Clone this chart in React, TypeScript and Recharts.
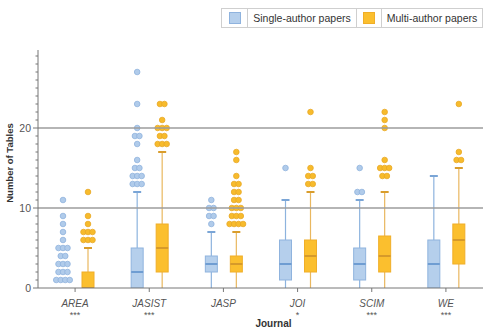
import React from 'react';
import { ComposedChart, Bar, XAxis, YAxis, ReferenceLine } from 'recharts';

const journals = ['AREA', 'JASIST', 'JASP', 'JOI', 'SCIM', 'WE'];
const significance = ['***', '***', '', '*', '***', '***'];

// [lower whisker, Q1, median, Q3, upper whisker]
const singleStats = [
  [0, 0, 0, 0, 0],
  [0, 0, 2, 5, 12],
  [0, 2, 3, 4, 7],
  [0, 1, 3, 6, 11],
  [0, 1, 3, 5, 11],
  [0, 0, 3, 6, 14],
];
const multiStats = [
  [0, 0, 0, 2, 5],
  [0, 2, 5, 8, 17],
  [0, 2, 3, 4, 7],
  [0, 2, 4, 6, 12],
  [0, 2, 4, 6.5, 12],
  [0, 3, 6, 8, 15],
];
const singleOutliers = [
  [1, 1, 1, 1, 2, 2, 2, 3, 3, 3, 4, 4, 5, 5, 5, 6, 7, 8, 9, 11],
  [13, 13, 13, 14, 14, 14, 15, 15, 16, 18, 19, 19, 20, 23, 27],
  [8, 9, 9, 10, 10, 11],
  [15],
  [12, 12, 15],
  [],
];
const multiOutliers = [
  [6, 6, 6, 7, 7, 7, 8, 9, 12],
  [18, 18, 18, 19, 19, 20, 20, 20, 21, 23, 23],
  [8, 8, 8, 8, 9, 9, 9, 10, 10, 10, 11, 11, 12, 12, 13, 13, 14, 16, 17],
  [13, 13, 14, 14, 15, 22],
  [14, 14, 15, 15, 15, 16, 20, 21, 22],
  [16, 16, 17, 23],
];

const yTicks = [0, 1, 2, 3, 4, 5, 6, 7, 8, 9, 10, 11, 12, 13, 14, 15, 16, 17, 18, 19, 20, 21, 22, 23, 24, 25, 26, 27, 28, 29];
const majorTicks = [0, 10, 20];
const gridValues = [10, 20];
const yMax = 29.75;

const FONT = '"Liberation Sans", Arial, Helvetica, sans-serif';

const data = journals.map((j, i) => ({
  journal: j,
  single: singleStats[i],
  multi: multiStats[i],
  singleOut: singleOutliers[i],
  multiOut: multiOutliers[i],
  singleRange: [singleStats[i][0], Math.max(singleStats[i][4], ...singleOutliers[i])],
  multiRange: [multiStats[i][0], Math.max(multiStats[i][4], ...multiOutliers[i])],
}));

const BLUE = {
  boxFill: '#b5cfec',
  boxStroke: '#8fb3de',
  median: '#6f9dd2',
  whisker: '#8db3de',
  cap: '#7aa5d6',
  dotFill: '#b0cbea',
  dotStroke: '#8fb3dd',
};
const ORANGE = {
  boxFill: '#fbbf2e',
  boxStroke: '#f0ae28',
  median: '#d69a2a',
  whisker: '#e9b75f',
  cap: '#d99d2c',
  dotFill: '#f7bb2c',
  dotStroke: '#e9a826',
};

const makeShape = (statsKey: string, outKey: string, rangeKey: string, c: any) => (props: any) => {
  const { x, y, width, height, payload } = props;
  const s: number[] = payload[statsKey];
  const outs: number[] = payload[outKey];
  const [lo, hi] = payload[rangeKey];
  const yTop = Math.min(y, y + height);
  const yBot = Math.max(y, y + height);
  const ppu = hi > lo ? (yBot - yTop) / (hi - lo) : 0;
  const toY = (v: number) => yBot - (v - lo) * ppu;
  const cx = x + width / 2;
  const counts: Record<string, number> = {};
  outs.forEach((v) => (counts[v] = (counts[v] || 0) + 1));
  const seen: Record<string, number> = {};
  const dots = outs.map((v, i) => {
    const k = counts[v];
    const idx = seen[v] || 0;
    seen[v] = idx + 1;
    const off = (idx - (k - 1) / 2) * 4.5;
    return (
      <circle key={i} cx={cx + off} cy={toY(v)} r={2.8} fill={c.dotFill} stroke={c.dotStroke} strokeWidth={0.8} />
    );
  });
  return (
    <g>
      {s[1] > s[0] && <line x1={cx} x2={cx} y1={toY(s[0])} y2={toY(s[1])} stroke={c.whisker} strokeWidth={1.2} />}
      {s[4] > s[3] && <line x1={cx} x2={cx} y1={toY(s[3])} y2={toY(s[4])} stroke={c.whisker} strokeWidth={1.2} />}
      {s[4] > s[3] && <line x1={cx - 4} x2={cx + 4} y1={toY(s[4])} y2={toY(s[4])} stroke={c.cap} strokeWidth={2} />}
      {s[3] > s[1] && (
        <rect x={x} y={toY(s[3])} width={width} height={toY(s[1]) - toY(s[3])} fill={c.boxFill} stroke={c.boxStroke} strokeWidth={1} />
      )}
      {s[3] > s[1] && <line x1={x} x2={x + width} y1={toY(s[2])} y2={toY(s[2])} stroke={c.median} strokeWidth={2} />}
      {dots}
    </g>
  );
};

const singleShape = makeShape('single', 'singleOut', 'singleRange', BLUE);
const multiShape = makeShape('multi', 'multiOut', 'multiRange', ORANGE);

const XTick = (props: any) => {
  const { x, y, payload } = props;
  const i = journals.indexOf(payload.value);
  return (
    <g>
      <text x={x} y={y + 13} textAnchor="middle" fontStyle="italic" fontSize={10} fill="#555" fontFamily={FONT}>
        {payload.value}
      </text>
      <text x={x} y={y + 24} textAnchor="middle" fontSize={9} fill="#555" fontFamily={FONT}>
        {significance[i]}
      </text>
    </g>
  );
};

const YTick = (props: any) => {
  const { x, y, payload } = props;
  const major = majorTicks.includes(payload.value);
  return (
    <g>
      <line x1={x - (major ? 5 : 2.5)} x2={x} y1={y} y2={y} stroke="#777" strokeWidth={1} />
      {major && (
        <text x={x - 7} y={y + 3.8} textAnchor="end" fontSize={10.5} fill="#555" fontFamily={FONT}>
          {payload.value}
        </text>
      )}
    </g>
  );
};

const XTitle = (props: any) => {
  const vb = props.viewBox || { x: 38, y: 288, width: 445, height: 48 };
  return (
    <text x={vb.x + vb.width / 2 + 13} y={vb.y + 39} textAnchor="middle" fontWeight="bold" fontSize={10} fill="#333" fontFamily={FONT}>
      Journal
    </text>
  );
};

const YTitle = (props: any) => {
  const vb = props.viewBox || { x: 8, y: 50, width: 30, height: 238 };
  const cx = 9.5;
  const cy = vb.y + vb.height / 2 - 6;
  return (
    <text
      x={cx}
      y={cy}
      transform={`rotate(-90 ${cx} ${cy})`}
      textAnchor="middle"
      dominantBaseline="central"
      fontWeight="bold"
      fontSize={9.5}
      fill="#333"
      fontFamily={FONT}
    >
      Number of Tables
    </text>
  );
};

const cellBase: React.CSSProperties = {
  boxSizing: 'border-box',
  height: '100%',
  display: 'flex',
  alignItems: 'center',
  justifyContent: 'center',
};

const LegendBox = () => (
  <div
    style={{
      position: 'absolute',
      left: 221,
      top: 8,
      width: 262,
      height: 20,
      display: 'flex',
      border: '1px solid #cfcfcf',
      boxSizing: 'border-box',
      fontFamily: FONT,
      fontSize: 10.5,
      color: '#333',
      background: '#fff',
    }}
  >
    <div style={{ ...cellBase, width: 25 }}>
      <div style={{ width: 12, height: 12, boxSizing: 'border-box', background: BLUE.boxFill, border: `1px solid ${BLUE.boxStroke}` }} />
    </div>
    <div style={{ ...cellBase, width: 109, borderLeft: '1px solid #cfcfcf' }}>Single-author papers</div>
    <div style={{ ...cellBase, width: 25, borderLeft: '1px solid #cfcfcf' }}>
      <div style={{ width: 12, height: 12, boxSizing: 'border-box', background: ORANGE.boxFill, border: `1px solid ${ORANGE.boxStroke}` }} />
    </div>
    <div style={{ ...cellBase, flex: 1, borderLeft: '1px solid #cfcfcf' }}>Multi-author papers</div>
  </div>
);

export default function App() {
  return (
    <div style={{ position: 'absolute', left: 0, top: 0, width: 488, height: 336, background: '#fff' }}>
      <ComposedChart
        width={488}
        height={336}
        data={data}
        margin={{ top: 50, right: 5, bottom: 0, left: 8 }}
        barGap={13}
      >
        {gridValues.map((v) => (
          <ReferenceLine key={v} y={v} stroke="#9d9d9d" strokeWidth={1.3} ifOverflow="extendDomain" />
        ))}
        <XAxis
          dataKey="journal"
          type="category"
          height={48}
          interval={0}
          tickSize={4}
          tickMargin={2}
          tick={<XTick />}
          tickLine={{ stroke: '#777' }}
          axisLine={{ stroke: '#777' }}
          label={<XTitle />}
        />
        <YAxis
          type="number"
          domain={[0, yMax]}
          ticks={yTicks}
          interval={0}
          width={30}
          tickSize={0}
          tickMargin={0}
          tickLine={false}
          tick={<YTick />}
          axisLine={{ stroke: '#777' }}
          label={<YTitle />}
          allowDataOverflow
        />
        <Bar dataKey="singleRange" name="Single-author papers" barSize={12} shape={singleShape} isAnimationActive={false} />
        <Bar dataKey="multiRange" name="Multi-author papers" barSize={12} shape={multiShape} isAnimationActive={false} />
      </ComposedChart>
      <LegendBox />
    </div>
  );
}
